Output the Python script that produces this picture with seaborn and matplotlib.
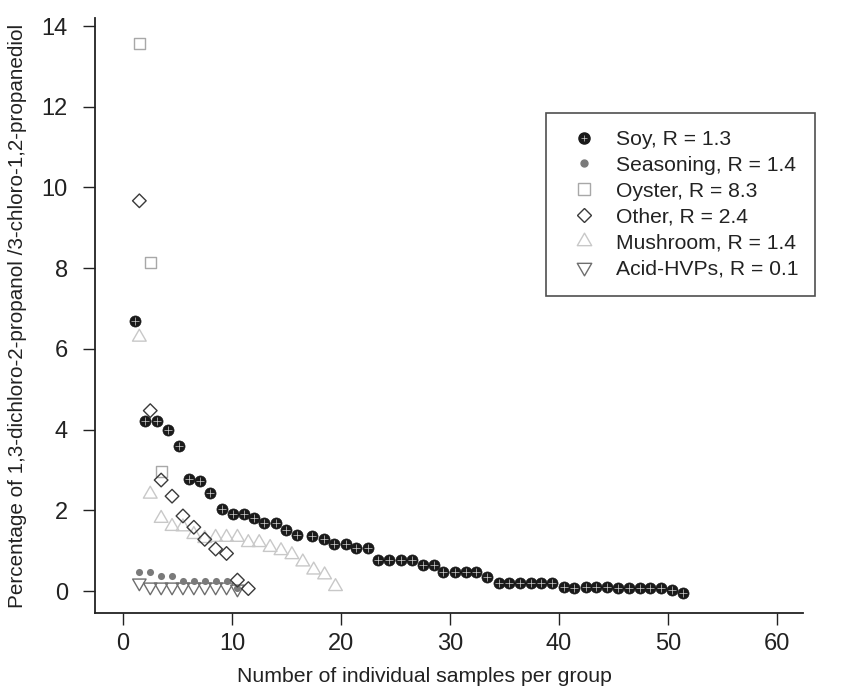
import numpy as np
import pandas as pd
import seaborn as sns
import matplotlib.pyplot as plt
from matplotlib.lines import Line2D
from matplotlib.path import Path

# values
soy_x = [1.1, 2.0, 3.1, 4.1, 5.1, 6.1, 7.1, 8.0, 9.1, 10.1, 11.1, 12.0, 12.9, 14.0, 15.0,
         16.0, 17.3, 18.4, 19.4, 20.5, 21.4, 22.5, 23.4, 24.4, 25.5, 26.5, 27.5, 28.5,
         29.4, 30.5, 31.5, 32.4, 33.4, 34.5, 35.4, 36.4, 37.4, 38.4, 39.4, 40.5, 41.4,
         42.5, 43.4, 44.4, 45.4, 46.4, 47.4, 48.4, 49.4, 50.4, 51.4]
soy_y = [6.70, 4.22, 4.22, 3.99, 3.59, 2.77, 2.72, 2.42, 2.03, 1.92, 1.90, 1.80, 1.69, 1.69,
         1.52, 1.40, 1.36, 1.29, 1.17, 1.17, 1.07, 1.07, 0.77, 0.77, 0.77, 0.77, 0.64, 0.64,
         0.48, 0.48, 0.48, 0.48, 0.35, 0.21, 0.20, 0.20, 0.20, 0.20, 0.20, 0.11, 0.07,
         0.11, 0.11, 0.11, 0.07, 0.07, 0.07, 0.07, 0.07, 0.02, -0.06]

seasoning_x = [1.5, 2.5, 3.5, 4.5, 5.5, 6.5, 7.5, 8.5, 9.5, 10.5]
seasoning_y = [0.47, 0.47, 0.37, 0.37, 0.25, 0.25, 0.25, 0.25, 0.25, 0.07]

oyster_x = [1.5, 2.5, 3.5]
oyster_y = [13.57, 8.15, 2.97]

other_x = [1.5, 2.5, 3.5, 4.5, 5.5, 6.5, 7.5, 8.5, 9.5, 10.5, 11.5]
other_y = [9.67, 4.47, 2.75, 2.35, 1.86, 1.58, 1.28, 1.04, 0.93, 0.27, 0.06]

mushroom_x = [1.5, 2.5, 3.5, 4.5, 5.5, 6.5, 7.5, 8.5, 9.5, 10.5, 11.5, 12.5, 13.5,
              14.5, 15.5, 16.5, 17.5, 18.5, 19.5]
mushroom_y = [6.29, 2.40, 1.80, 1.60, 1.59, 1.40, 1.30, 1.33, 1.33, 1.33, 1.20, 1.20,
              1.08, 1.00, 0.90, 0.72, 0.52, 0.40, 0.11]

acid_x = [1.5, 2.5, 3.5, 4.5, 5.5, 6.5, 7.5, 8.5, 9.5, 10.5]
acid_y = [0.20, 0.10, 0.10, 0.10, 0.10, 0.10, 0.10, 0.10, 0.10, 0.05]

labels = ["Soy, R = 1.3", "Seasoning, R = 1.4", "Oyster, R = 8.3",
          "Other, R = 2.4", "Mushroom, R = 1.4", "Acid-HVPs, R = 0.1"]

sns.set_theme(style="ticks")
plt.rcParams['font.family'] = ['Liberation Sans', 'DejaVu Sans']

# equilateral triangles like R's pch 2 / pch 6
tri_up = Path([(-1, -0.577), (1, -0.577), (0, 1.155), (-1, -0.577)], closed=True)
tri_down = Path([(-1, 0.577), (1, 0.577), (0, -1.155), (-1, 0.577)], closed=True)

fig = plt.figure(figsize=(8.59, 6.89), dpi=100)
ax = fig.add_axes([95 / 859, 76 / 689, 708 / 859, 595 / 689])

sns.scatterplot(x=soy_x, y=soy_y, ax=ax, marker="o", s=64, color="#1a1a1a",
                edgecolor="#1a1a1a", linewidth=0.5, zorder=3)
sns.scatterplot(x=soy_x, y=soy_y, ax=ax, marker="+", s=26, color="#d0d0d0",
                linewidth=0.5, zorder=4)
sns.scatterplot(x=seasoning_x, y=seasoning_y, ax=ax, marker="o", s=26, color="#7a7a7a",
                edgecolor="#7a7a7a", linewidth=0, zorder=3)
sns.scatterplot(x=oyster_x, y=oyster_y, ax=ax, marker="s", s=64, facecolor="none",
                edgecolor="#a8a8a8", linewidth=1.0, zorder=3)
sns.scatterplot(x=other_x, y=other_y, ax=ax, marker="D", s=48, facecolor="none",
                edgecolor="#3a3a3a", linewidth=1.0, zorder=3)
sns.scatterplot(x=mushroom_x, y=mushroom_y, ax=ax, marker=tri_up, s=130, facecolor="none",
                edgecolor="#c8c8c8", linewidth=1.0, zorder=2)
sns.scatterplot(x=acid_x, y=acid_y, ax=ax, marker=tri_down, s=125, facecolor="none",
                edgecolor="#6e6e6e", linewidth=1.0, zorder=2)

ax.set_xlim(-2.57, 62.4)
ax.set_ylim(-0.545, 14.2)
ax.set_xticks(range(0, 61, 10))
ax.set_yticks(range(0, 15, 2))
ax.tick_params(direction="out", length=8.6, width=1.0, labelsize=17, color="#222222",
               labelcolor="#222222")
ax.tick_params(axis="x", pad=6)
ax.tick_params(axis="y", pad=11)
for side in ["top", "right"]:
    ax.spines[side].set_visible(False)
for side in ["left", "bottom"]:
    ax.spines[side].set_linewidth(1.3)
    ax.spines[side].set_color("#222222")

ax.set_xlabel("Number of individual samples per group", fontsize=15.3, color="#222222")
ax.set_ylabel("Percentage of 1,3-dichloro-2-propanol /3-chloro-1,2-propanediol",
              fontsize=14.9, color="#222222")
ax.xaxis.label.set_va("center")
ax.yaxis.label.set_va("center")
ax.xaxis.set_label_coords(0.465, -0.106)
ax.yaxis.set_label_coords(-0.109, 0.50)

handles = [
    (Line2D([], [], ls="", marker="o", ms=8, mfc="#1a1a1a", mec="#1a1a1a"),
     Line2D([], [], ls="", marker="+", ms=5, mec="#d0d0d0", mew=0.5)),
    Line2D([], [], ls="", marker="o", ms=5, mfc="#7a7a7a", mec="#7a7a7a"),
    Line2D([], [], ls="", marker="s", ms=8, mfc="none", mec="#a8a8a8", mew=1.0),
    Line2D([], [], ls="", marker="D", ms=7, mfc="none", mec="#3a3a3a", mew=1.0),
    Line2D([], [], ls="", marker=tri_up, ms=12, mfc="none", mec="#c8c8c8", mew=1.0),
    Line2D([], [], ls="", marker=tri_down, ms=12, mfc="none", mec="#6e6e6e", mew=1.0),
]
leg = ax.legend(handles, labels, loc="upper left", bbox_to_anchor=(546 / 859, 1 - 113 / 689),
                bbox_transform=fig.transFigure, borderaxespad=0, fontsize=15.2,
                frameon=True, fancybox=False, edgecolor="#222222", borderpad=0.8,
                handlelength=2.0, handletextpad=0.5, labelspacing=0.33)
leg.get_frame().set_linewidth(1.2)
for t in leg.get_texts():
    t.set_color("#222222")

fig.savefig("out.png", dpi=100)
